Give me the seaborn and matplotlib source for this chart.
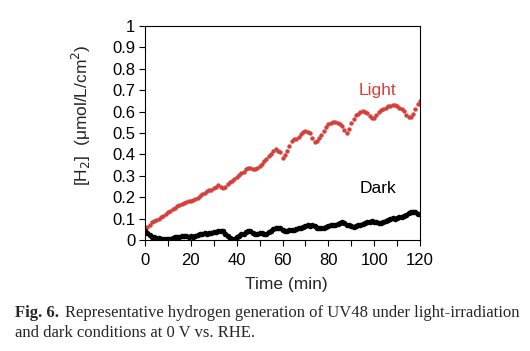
import matplotlib
matplotlib.use("Agg")
import matplotlib.pyplot as plt
import numpy as np
import pandas as pd
import seaborn as sns

# time axis (min), one reading per minute
time_min = list(range(0, 121))

light_h2 = [
    0.055, 0.062, 0.072, 0.082, 0.088, 0.095, 0.100, 0.108, 0.114, 0.122,
    0.130, 0.137, 0.145, 0.150, 0.158, 0.164, 0.170, 0.172, 0.176, 0.180,
    0.184, 0.188, 0.192, 0.197, 0.205, 0.214, 0.222, 0.228, 0.232, 0.236,
    0.242, 0.249, 0.255, 0.250, 0.242, 0.250, 0.262, 0.270, 0.278, 0.287,
    0.296, 0.304, 0.312, 0.320, 0.330, 0.338, 0.335, 0.331, 0.330, 0.336,
    0.346, 0.356, 0.368, 0.380, 0.392, 0.404, 0.414, 0.424, 0.418, 0.413,
    0.385, 0.398, 0.418, 0.440, 0.462, 0.472, 0.474, 0.480, 0.494, 0.505,
    0.510, 0.507, 0.498, 0.478, 0.460, 0.462, 0.475, 0.490, 0.508, 0.526,
    0.540, 0.548, 0.552, 0.553, 0.548, 0.540, 0.535, 0.515, 0.500, 0.520,
    0.545, 0.566, 0.582, 0.590, 0.597, 0.601, 0.599, 0.592, 0.580, 0.570,
    0.568, 0.582, 0.598, 0.607, 0.612, 0.618, 0.625, 0.628, 0.631, 0.630,
    0.625, 0.618, 0.614, 0.603, 0.585, 0.575, 0.574, 0.590, 0.612, 0.636,
    0.648,
]

dark_h2 = [
    0.042, 0.034, 0.024, 0.016, 0.012, 0.010, 0.008, 0.005, 0.004, 0.003,
    0.004, 0.006, 0.008, 0.012, 0.014, 0.016, 0.018, 0.020, 0.017, 0.016,
    0.018, 0.016, 0.017, 0.022, 0.028, 0.030, 0.031, 0.028, 0.031, 0.034,
    0.036, 0.038, 0.040, 0.042, 0.040, 0.030, 0.018, 0.010, 0.006, 0.004,
    0.012, 0.020, 0.026, 0.030, 0.036, 0.042, 0.040, 0.034, 0.030, 0.030,
    0.034, 0.032, 0.028, 0.030, 0.036, 0.044, 0.050, 0.056, 0.058, 0.054,
    0.046, 0.042, 0.044, 0.046, 0.048, 0.046, 0.050, 0.054, 0.058, 0.060,
    0.064, 0.068, 0.066, 0.068, 0.064, 0.058, 0.056, 0.058, 0.056, 0.060,
    0.066, 0.068, 0.070, 0.072, 0.076, 0.078, 0.082, 0.078, 0.072, 0.068,
    0.064, 0.062, 0.064, 0.068, 0.070, 0.074, 0.078, 0.082, 0.086, 0.089,
    0.086, 0.082, 0.080, 0.080, 0.082, 0.088, 0.094, 0.098, 0.101, 0.100,
    0.104, 0.106, 0.108, 0.110, 0.118, 0.126, 0.130, 0.129, 0.130, 0.122,
    0.120,
]

y_ticks = [0, 0.1, 0.2, 0.3, 0.4, 0.5, 0.6, 0.7, 0.8, 0.9, 1]
y_labels = ["0", "0.1", "0.2", "0.3", "0.4", "0.5", "0.6", "0.7", "0.8", "0.9", "1"]
x_ticks = [0, 20, 40, 60, 80, 100, 120]

RED = "#d6403c"

sns.set_style("ticks")
plt.rcParams["font.family"] = ["Liberation Sans", "DejaVu Sans"]

df = pd.DataFrame({"time": time_min, "light": light_h2, "dark": dark_h2})

fig = plt.figure(figsize=(5.3, 3.51), dpi=100)
ax = fig.add_axes([0.2736, 0.3162, 0.5189, 0.6097])

sns.scatterplot(data=df, x="time", y="light", ax=ax, color=RED, s=10,
                linewidth=0, legend=False)
sns.scatterplot(data=df, x="time", y="dark", ax=ax, color="black", s=16,
                linewidth=0, legend=False)

ax.set_xlim(0, 120)
ax.set_ylim(0, 1)
ax.set_xticks(x_ticks)
ax.set_xticks(range(10, 120, 20), minor=True)
ax.set_yticks(y_ticks)
ax.set_yticklabels(y_labels)
ax.tick_params(which="both", direction="out", length=4, width=0.8,
               labelsize=12, colors="black", pad=3)
ax.tick_params(axis="x", pad=5)
for sp in ax.spines.values():
    sp.set_visible(True)
    sp.set_linewidth(0.8)
    sp.set_color("black")

ax.set_xlabel("Time (min)", fontsize=12.5)
ax.xaxis.set_label_coords(0.515, -0.175)
ax.set_ylabel("[H$_2$]  (μmol/L/cm$^2$)", fontsize=12.5)
ax.yaxis.set_label_coords(-0.19, 0.585)

ax.text(101.5, 0.70, "Light", color=RED, fontsize=12.5, ha="center", va="center")
ax.text(101.5, 0.24, "Dark", color="black", fontsize=12.5, ha="center", va="center")

fig.text(0.028, 0.108, "Fig. 6.", fontsize=12, fontweight="bold",
         family=["Liberation Serif"], va="center")
fig.text(0.123, 0.108,
         "Representative hydrogen generation of UV48 under light-irradiation",
         fontsize=12, family=["Liberation Serif"], va="center")
fig.text(0.028, 0.050, "and dark conditions at 0 V vs. RHE.",
         fontsize=12, family=["Liberation Serif"], va="center")

fig.savefig("out.png", dpi=100, facecolor="white")
